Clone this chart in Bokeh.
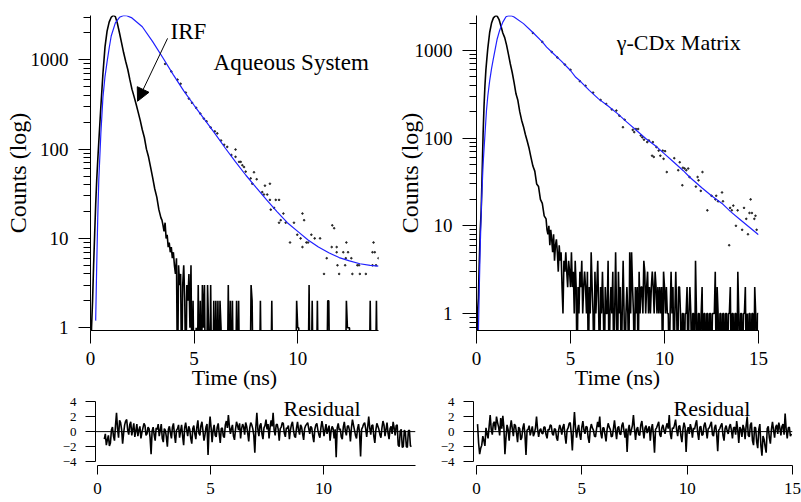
from bokeh.plotting import figure
from bokeh.layouts import column, row
from bokeh.models import (FixedTicker, NumeralTickFormatter, Label, Arrow,
                          NormalHead, Span, Range1d)
from bokeh.embed import file_html
from bokeh.resources import INLINE

NARROW = "Liberation Sans Narrow"
SERIF = "Liberation Serif"
FIT_BLUE = "#2020ff"
ZERO_FLOOR = 0.2   # display level for zero-count channels on the log axis

# ---------------- Aqueous system (left) ----------------
fit_l_t = [0.25, 0.30, 0.35, 0.40, 0.50, 0.60, 0.70, 0.80, 0.90, 1.00, 1.20, 1.40, 1.60, 1.75,
           2.00, 2.50, 3.00, 3.50, 4.00, 4.50, 5.00, 5.50, 6.00, 6.50, 7.00, 7.50, 8.00, 8.50,
           9.00, 9.50, 10.00, 10.50, 11.00, 11.50, 12.00, 12.50, 13.00, 13.50, 13.90]
fit_l_c = [1.2, 5, 17, 45, 150, 380, 650, 950, 1350, 1850, 2600, 3000, 3140, 3120,
           2950, 2350, 1600, 1050, 680, 450, 310, 215, 150, 103, 72, 51, 37, 27,
           20, 15, 12, 9.6, 8.0, 6.9, 6.1, 5.6, 5.2, 5.0, 4.9]

irf_l_head_t = [0.00, 0.05, 0.10, 0.15, 0.20, 0.25, 0.30, 0.35, 0.40, 0.45, 0.50, 0.60, 0.70,
                0.80, 0.90, 1.00, 1.10, 1.20, 1.30, 1.40, 1.50, 1.60, 1.70, 1.80, 1.90, 2.00,
                2.10, 2.20, 2.30, 2.40, 2.50, 2.60, 2.70, 2.80, 2.90, 3.00, 3.10, 3.20, 3.30,
                3.40, 3.45]
irf_l_head_c = [0, 1, 2, 5, 11, 24, 45, 75, 120, 190, 300, 700, 1400,
                2100, 2650, 3000, 3150, 3050, 2550, 2000, 1550, 1200, 960, 780, 600, 470,
                390, 320, 260, 210, 165, 135, 100, 82, 63, 48, 36, 29, 21,
                17, 16]
IRF_L_TAIL_START = 3.50
IRF_CHANNEL = 0.05
irf_l_tail_c = [14, 12, 15, 10, 11, 8, 9, 7, 8, 6, 7, 5, 4, 6, 0, 5, 3, 4, 0, 3,
                5, 2, 0, 3, 2, 4, 1, 5, 0, 2, 0, 0, 1, 0, 3, 0, 2, 0, 3, 1,
                3, 0, 0, 3, 1, 0, 3, 0, 0, 2, 0, 2, 0, 2, 0, 2, 1, 0, 0, 0,
                0, 0, 0, 3, 0, 2, 0, 2, 0, 0, 0, 2, 0, 2, 0, 0, 0, 0, 0, 0,
                0, 0, 0, 0, 0, 3, 2, 0, 0, 0, 0, 0, 0, 0, 2, 0, 0, 0, 0, 0,
                0, 0, 0, 0, 0, 2, 0, 0, 0, 0, 0, 0, 0, 0, 0, 0, 0, 0, 0, 0,
                0, 0, 0, 0, 0, 0, 0, 0, 0, 2, 1, 1, 0, 0, 0, 0, 0, 0, 0, 0,
                0, 3, 0, 0, 2, 0, 0, 0, 0, 2, 0, 0, 0, 0, 0, 0, 0, 0, 0, 2,
                2, 0, 0, 0, 0, 0, 0, 0, 0, 0, 0, 0, 0, 0, 0, 0, 0, 2, 1, 1,
                1, 0, 0, 0, 0, 0, 0, 0, 0, 0, 0, 0, 0, 0, 0, 0, 0, 0, 0, 0,
                2, 0, 0, 0, 0, 0, 2, 0, 0]

dots_l_t = [3.6, 3.9, 4.2, 4.35, 4.6, 4.75, 4.9, 5.1, 5.3, 5.47, 5.6, 5.8, 6.0, 6.12, 6.3, 6.45,
            6.6, 6.8, 7.0, 7.0, 7.17, 7.25, 7.33, 7.41, 7.49, 7.73, 7.81, 7.89, 8.02, 8.29, 8.37,
            8.42, 8.53, 8.66, 8.66, 8.7, 8.86, 8.94, 9.1, 9.1, 9.18, 9.31, 9.42, 9.63, 9.82, 9.98,
            10.14, 10.23, 10.23, 10.31, 10.42, 10.5, 10.66, 10.82, 11.08, 11.27, 11.4, 11.64,
            11.67, 11.76, 11.88, 11.88, 11.92, 12.0, 12.2, 12.29, 12.32, 12.35, 12.43, 12.59,
            12.64, 12.88, 12.96, 13.0, 13.29, 13.61, 13.61, 13.66, 13.72, 13.78, 13.9]
dots_l_c = [900, 740, 600, 540, 430, 368, 330, 290, 250, 220, 205, 175, 158, 150, 125, 112,
            106, 86, 99, 82, 72, 72, 66, 63, 56, 47, 41, 55, 46, 33, 31,
            39, 31, 41, 27, 21, 22, 27, 27, 15, 16, 19, 15, 9, 15, 11,
            10, 19, 8, 16, 9, 9, 11, 10, 10, 4, 6, 8,
            14, 13, 8, 7, 5, 4, 7, 5, 6, 9, 7, 6,
            4, 5, 5, 4, 4, 7, 5, 9, 7, 5, 6]

RES_L_START = 0.30
RES_L_STEP = 0.045
res_l = [-1.0, -0.3, -1.8, -1.1, -0.5, -1.9, -1.5, 0.2, 0.6, -0.6, -1.2, 0.8, 2.5, 0.4, -0.8, 1.5, 1.2, 0.3, -1.6, -0.2,
         0.9, 1.4, 1.6, 0.2, -0.4, 0.9, 1.3, -0.5, 0.3, 1.1, -0.7, 0.1, 1.0, -0.6, 0.2, 0.7, -0.9, -0.1, 0.5, 1.1,
         0.8, -0.5, -0.3, 0.6, 0.4, -0.8, -3.0, 0.1, 0.6, -0.4, -1.2, 0.5, 0.3, 1.0, -0.6, 0.2, 1.0, -0.9, -1.4, 0.4,
         0.2, -0.7, -2.0, 0.3, 0.7, -0.2, -0.9, 0.6, 1.1, -0.4, -1.5, 0.2, 0.4, 0.9, -0.8, 0.1, 0.9, -0.6, -1.8, 0.5,
         1.2, 0.2, -0.6, 0.7, 0.3, -0.9, -1.6, 0.4, 0.8, -0.3, -1.0, 0.6, 1.5, -0.2, -0.5, 0.8, 1.3, 0.1, -1.2, -0.4,
         0.6, 1.0, -3.1, 0.3, 2.0, 0.5, -1.4, 0.2, 0.9, -0.5, -0.7, 0.6, 1.1, -0.3, -1.5, 0.4, 0.5, -0.6, -0.8, 0.9,
         1.4, 0.5, 2.2, 0.7, -0.3, 0.4, 0.9, -0.6, -1.1, 0.3, 1.3, 0.8, 0.2, 1.1, -0.9, 0.4, 1.0, 0.6, -0.4, 1.2,
         0.7, -0.2, -1.3, 0.5, 1.2, 0.9, 0.4, -0.5, -2.8, 0.6, 2.5, 0.3, -0.6, 0.8, 1.1, -0.3, -1.0, 0.5, 0.8, 1.6,
         0.3, 1.0, -0.9, 0.6, 1.5, 0.7, 2.5, 0.2, -0.5, 0.9, 1.0, 0.3, -1.2, 0.4, 0.6, 1.2, 1.1, -0.2, -0.7, 0.5,
         0.4, 0.8, -1.0, 0.2, 0.9, 1.3, 0.2, -0.6, -0.8, 0.5, 1.3, 0.2, -0.4, 0.9, 0.6, -0.3, -1.1, 0.4, 0.8, 1.0,
         1.2, 0.4, -0.3, 0.7, 0.5, -0.6, -1.4, 0.3, 0.9, 1.1, 0.2, -0.4, -0.8, 0.5, 1.4, 0.6, -0.6, 0.2, 1.0, -0.3,
         0.3, 0.8, -1.2, 0.1, 0.7, 0.4, -0.9, 0.3, -3.4, 0.5, 1.1, 0.2, 0.4, -0.7, -1.0, 0.6, 1.3, 0.1, -0.5, 0.7,
         0.8, 0.2, -1.3, 0.5, 1.6, 0.9, 0.2, -0.5, -0.9, 0.4, 1.0, -0.2, -3.3, 0.3, 0.6, 1.0, 1.2, 0.4, -0.7, 0.6,
         2.0, 0.5, -0.4, 0.8, 0.9, -0.6, -1.5, 0.2, 1.1, 0.7, 0.3, -0.4, -0.8, 0.5, 1.4, 0.9, -0.6, 0.3, 1.2, -0.2,
         -1.0, 0.4, 0.7, -0.3, 1.3, 0.5, -0.5, 0.8, 0.9, -1.8, -2.0, 0.1, 0.3, -2.1, -2.0, 0.2, 0.0, -2.0, -2.1, 0.1,
         0.2, -1.9, -2.0]

# ---------------- gamma-CDx matrix (right) ----------------
fit_r_t = [0.10, 0.15, 0.20, 0.27, 0.35, 0.45, 0.53, 0.60, 0.70, 0.80, 0.88, 1.00, 1.10, 1.23,
           1.40, 1.57, 1.70, 1.85, 2.00, 2.50, 3.00, 3.50, 3.73, 4.00, 4.50, 5.00, 5.28, 5.50,
           6.00, 6.49, 7.00, 7.50, 8.00, 8.50, 9.00, 9.60, 10.00, 10.50, 11.00, 11.33, 12.00,
           12.50, 13.06, 13.50, 14.00, 14.50, 15.00]
fit_r_c = [0.6, 2, 6, 19, 50, 110, 205, 300, 450, 620, 770, 1050, 1350, 1690,
           2100, 2420, 2480, 2480, 2400, 2020, 1600, 1250, 1090, 960, 760, 590, 494, 450,
           350, 280, 232, 190, 152, 123, 99, 79, 66, 53, 42.5, 36, 27,
           22, 18, 14.6, 11.9, 9.7, 7.9]

irf_r_head_t = [0.00, 0.05, 0.10, 0.15, 0.20, 0.25, 0.30, 0.35, 0.40, 0.45, 0.50, 0.55, 0.60,
                0.70, 0.80, 0.90, 1.00, 1.05, 1.10, 1.20, 1.30, 1.40, 1.50, 1.60, 1.70, 1.80,
                1.90, 2.00, 2.10, 2.20, 2.30, 2.40, 2.50, 2.60, 2.70, 2.80, 2.90, 3.00, 3.10,
                3.20, 3.30, 3.40, 3.50, 3.60, 3.70, 3.75]
irf_r_head_c = [0, 1, 1.5, 4, 9, 15, 40, 110, 230, 400, 600, 800, 1050,
                1600, 2050, 2350, 2470, 2490, 2460, 2250, 1900, 1580, 1400, 1150, 900, 700,
                560, 430, 320, 270, 200, 160, 135, 110, 92, 76, 60, 48, 42,
                30, 28, 20, 18, 13, 12, 9]
IRF_R_TAIL_START = 3.80
irf_r_tail_c = [8, 10, 6, 9, 7, 5, 8, 4, 6, 7, 5, 3, 6, 4, 5, 2, 1, 4, 3, 5,
                3, 2, 4, 3, 2, 5, 2, 3, 1, 4, 2, 0, 2, 1, 3, 2, 4, 1, 2, 3,
                2, 1, 3, 0, 2, 1, 5, 2, 1, 0, 3, 1, 2, 4, 1, 0, 2, 1, 3, 1,
                0, 2, 1, 1, 4, 0, 1, 2, 1, 3, 0, 1, 5, 1, 0, 3, 1, 2, 0, 1,
                4, 1, 0, 1, 2, 1, 0, 5, 1, 5, 2, 1, 0, 2, 1, 2, 0, 3, 1, 2,
                2, 1, 4, 3, 1, 2, 3, 1, 2, 1, 2, 3, 2, 1, 3, 2, 1, 2, 1, 2,
                1, 2, 0, 3, 2, 1, 2, 1, 1, 0, 1, 3, 1, 2, 0, 1, 3, 1, 0, 2,
                2, 1, 0, 1, 1, 0, 1, 1, 2, 0, 1, 2, 1, 0, 1, 1, 0, 4, 1, 0,
                1, 1, 0, 1, 2, 0, 1, 1, 0, 1, 1, 0, 1, 1, 0, 1, 1, 1, 3, 0,
                2, 1, 0, 1, 1, 0, 1, 1, 0, 1, 1, 0, 1, 1, 2, 0, 1, 1, 0, 1,
                1, 0, 3, 1, 0, 1, 1, 0, 1, 1, 2, 0, 1, 0, 1, 1, 0, 1, 1, 0,
                2, 1, 0, 1, 1]

dots_r_t = [3.0, 3.5, 4.0, 4.3, 4.7, 5.0, 5.5, 5.8, 6.2, 6.6, 6.9, 7.2, 7.44, 7.6, 7.79, 7.88,
            8.31, 8.39, 8.48, 8.6, 8.74, 8.82, 8.91, 9.08, 9.17, 9.34, 9.38, 9.43, 9.57, 9.69,
            9.78, 9.91, 9.95, 10.03, 10.12, 10.52, 10.73, 10.81, 10.95, 10.98, 11.07, 11.16,
            11.26, 11.33, 11.67, 11.76, 11.81, 11.93, 12.02, 12.28, 12.5, 12.71, 12.75, 12.85,
            13.06, 13.11, 13.44, 13.49, 13.58, 13.66, 13.8, 13.89, 14.13, 14.23, 14.35, 14.44,
            14.52, 14.58, 14.65, 14.78, 14.84, 14.9]
dots_r_c = [1580, 1250, 960, 830, 690, 600, 445, 395, 330, 272, 245, 212, 206, 180, 133, 162,
            124, 117, 127, 127, 107, 102, 96, 90, 94, 63, 90, 61, 79, 72,
            63, 72, 58, 71, 41, 59, 43, 53, 29, 46, 45, 43,
            45, 36, 28, 36, 33, 25, 41, 15, 22, 20, 22, 19,
            24, 19, 6, 16, 15, 17, 10, 15, 9, 16, 12, 8,
            14, 20, 14, 12, 13, 9]

RES_R_START = 0.05
RES_R_STEP = 0.05
res_r = [1.0, -1.5, -3.0, -2.2, -1.8, -0.6, -1.2, -1.9, 0.5, -0.3, -0.9, 0.7, 2.2, 0.3, -0.4, 1.1, 1.3, 0.2, 2.0, 1.2,
         0.6, -0.5, 1.8, 0.4, 2.1, 0.6, -3.0, -0.8, 0.9, 0.3, -1.2, 0.5, 1.5, 0.4, -0.6, 1.0, 0.8, -0.2, -1.4, 0.6,
         0.4, -1.1, -0.8, 0.5, 1.1, -0.4, -3.1, 0.2, 0.3, 0.8, -0.5, 0.1, 0.7, -0.6, -0.2, 0.5, 2.0, 0.3, -0.7, 0.2,
         0.4, -0.2, -0.3, 0.6, 0.6, -0.4, -0.9, 0.3, 0.2, 0.9, 0.8, -0.3, -0.5, 0.4, 0.3, -0.8, -1.2, 0.2, 0.9, 0.4,
         -0.4, 0.6, 1.0, -0.5, -1.6, 0.2, 0.5, 1.1, 1.2, -0.3, -2.5, 0.4, 2.6, 0.5, -0.8, 0.3, 0.9, -0.4, -1.1, 0.6,
         1.4, 0.2, -0.3, 0.7, 0.6, -0.8, -1.5, 0.3, 1.0, 0.5, 0.2, -0.6, -0.7, 0.4, 1.3, 0.6, 2.0, -0.2, -0.9, 0.5,
         0.5, -0.4, -1.3, 0.3, 1.1, 0.6, 0.3, -0.7, -0.6, 0.4, 1.5, 0.2, -1.0, 0.5, 0.7, -0.3, -0.4, 0.8, 1.2, 0.1,
         -0.8, 0.4, -2.7, 0.2, 0.9, -0.5, 0.2, 0.8, 2.2, 0.4, -1.1, 0.3, 0.6, -0.4, -0.5, 0.9, 1.4, 0.2, -0.9, 0.5,
         0.8, -0.2, 0.3, 0.7, -1.2, 0.4, 1.0, -0.5, -2.8, 0.3, 0.5, 0.9, 1.3, -0.4, -0.7, 0.5, 0.9, 0.2, -0.3, 0.6,
         1.1, 0.4, 2.2, -0.3, -1.0, 0.5, 0.4, 0.9, 1.6, 0.2, -0.6, 0.7, 0.8, -0.5, -1.4, 0.3, 1.2, 0.6, -2.7, 0.1,
         0.6, -0.3, 1.0, 0.4, -0.8, 0.5, 0.3, 1.0, 1.5, -0.2, -1.1, 0.6, 0.7, -0.5, -0.4, 0.8, 1.2, 0.3, -0.9, 0.4,
         0.5, 0.9, 1.3, -0.4, -0.6, 0.5, 0.9, -0.3, -2.6, 0.2, 0.4, 0.8, 1.1, -0.5, -1.2, 0.4, 0.8, 0.1, -0.3, 0.6,
         1.0, 0.2, -0.9, 0.5, 0.6, -0.4, 1.4, 0.3, -1.5, 0.6, 0.3, -0.7, 0.9, 0.4, -1.0, 0.8, 2.0, -0.5, -0.7, 0.9,
         1.2, -1.2, -1.8, 0.6, 0.5, -1.4, -2.2, 0.3, 1.0, -1.9, -3.2, -0.6, -1.0, -2.0, -2.8, 0.4, 0.7, -0.8, -1.6, 0.3,
         1.3, 0.2, -0.8, 0.6, 0.9, -0.3, 1.2, 0.5, -0.5, 0.7, 1.0, -0.4, 2.4, 0.3, -0.9, 0.5, 0.6, -0.6, -0.3]

MAIN_Y_TICKS = [1, 10, 100, 1000]
MAIN_Y_MINOR = [0.7, 0.8, 0.9, 2, 3, 4, 5, 6, 7, 8, 9, 20, 30, 40, 50, 60, 70, 80, 90,
                200, 300, 400, 500, 600, 700, 800, 900, 2000, 3000]
RES_Y_TICKS = [-4, -2, 0, 2, 4]


def grid_times(start, step, vals):
    return [round(start + step * i, 4) for i in range(len(vals))]


def floored(vals):
    return [v if v > 0 else ZERO_FLOOR for v in vals]


def clean(p):
    p.outline_line_color = None
    p.grid.visible = False
    p.background_fill_color = "white"
    p.border_fill_color = "white"


def main_panel(width, bl, br, x_end, y_lo, y_hi, x_ticks, y_tick_out, y_label_standoff):
    p = figure(width=width, height=395, x_range=Range1d(0, x_end),
               y_range=Range1d(y_lo, y_hi), y_axis_type="log",
               output_backend="svg", toolbar_location=None,
               min_border_left=bl, min_border_right=br,
               min_border_top=15, min_border_bottom=65)
    clean(p)
    xa = p.xaxis[0]
    xa.ticker = FixedTicker(ticks=x_ticks)
    xa.major_tick_out = 13
    xa.major_tick_in = 0
    xa.major_label_standoff = 8
    xa.major_label_text_font = NARROW
    xa.major_label_text_font_size = "19px"
    xa.major_label_text_color = "black"
    xa.axis_label = "Time (ns)"
    xa.axis_label_text_font = SERIF
    xa.axis_label_text_font_size = "22px"
    xa.axis_label_text_font_style = "normal"
    xa.axis_label_text_color = "black"
    xa.axis_label_standoff = -3
    ya = p.yaxis[0]
    ya.ticker = FixedTicker(ticks=MAIN_Y_TICKS, minor_ticks=MAIN_Y_MINOR)
    ya.formatter = NumeralTickFormatter(format="0")
    ya.major_tick_out = y_tick_out
    ya.major_tick_in = 0
    ya.minor_tick_out = 7
    ya.minor_tick_in = 0
    ya.major_label_standoff = 10
    ya.major_label_text_font = NARROW
    ya.major_label_text_font_size = "19px"
    ya.major_label_text_color = "black"
    ya.axis_label = "Counts (log)"
    ya.axis_label_text_font = SERIF
    ya.axis_label_text_font_size = "24px"
    ya.axis_label_text_font_style = "normal"
    ya.axis_label_text_color = "black"
    ya.axis_label_standoff = y_label_standoff
    for ax in (xa, ya):
        ax.axis_line_color = "black"
        ax.major_tick_line_color = "black"
    xa.minor_tick_line_color = None
    ya.minor_tick_line_color = "black"
    return p


def residual_panel(width, bl, br, x_start, x_end, x_ticks):
    p = figure(width=width, height=107, x_range=Range1d(x_start, x_end),
               y_range=Range1d(-4.5, 4.0), output_backend="svg", toolbar_location=None,
               min_border_left=bl, min_border_right=br, min_border_top=6, min_border_bottom=37)
    clean(p)
    xa = p.xaxis[0]
    xa.ticker = FixedTicker(ticks=x_ticks)
    xa.bounds = (0, x_end)
    xa.minor_tick_line_color = None
    xa.major_tick_out = 9
    xa.major_tick_in = 0
    xa.major_label_standoff = 8
    xa.major_label_text_font = NARROW
    xa.major_label_text_font_size = "17px"
    xa.major_label_text_color = "black"
    ya = p.yaxis[0]
    ya.ticker = FixedTicker(ticks=RES_Y_TICKS)
    ya.bounds = (-4, 4)
    ya.minor_tick_line_color = None
    ya.major_tick_out = 10
    ya.major_tick_in = 0
    ya.major_label_standoff = 9
    ya.major_label_text_font = NARROW
    ya.major_label_text_font_size = "13px"
    ya.major_label_text_color = "black"
    for ax in (xa, ya):
        ax.axis_line_color = "black"
        ax.major_tick_line_color = "black"
    p.add_layout(Span(location=0, dimension="width", line_color="black", line_width=1))
    return p


def text(p, x, y, s, size):
    p.add_layout(Label(x=x, y=y, text=s, text_font=SERIF, text_font_size=size,
                       text_baseline="middle", text_align="left", text_color="black"))


# ---- left main ----
pl = main_panel(393, 90, 15, 13.9, 0.93, 3140, [0, 5, 10], 12, -3)
irf_l_t = irf_l_head_t + grid_times(IRF_L_TAIL_START, IRF_CHANNEL, irf_l_tail_c)
irf_l_c = floored(irf_l_head_c + irf_l_tail_c)
pl.line(irf_l_t, irf_l_c, line_color="black", line_width=1.6)
pl.scatter(dots_l_t, dots_l_c, size=1.6, color="#222222")
pl.line(fit_l_t, fit_l_c, line_color=FIT_BLUE, line_width=1.2)
text(pl, 3.86, 2080, "IRF", "23px")
text(pl, 5.94, 938, "Aqueous System", "23px")
pl.add_layout(Arrow(end=NormalHead(size=13, fill_color="black", line_color="black"),
                    x_start=3.72, y_start=1740, x_end=2.27, y_end=344,
                    line_color="black", line_width=1))

# ---- right main ----
pr = main_panel(400, 75, 35, 15.0, 0.64, 2500, [0, 5, 10, 15], 14, -11)
irf_r_t = irf_r_head_t + grid_times(IRF_R_TAIL_START, IRF_CHANNEL, irf_r_tail_c)
irf_r_c = floored(irf_r_head_c + irf_r_tail_c)
pr.line(irf_r_t, irf_r_c, line_color="black", line_width=1.6)
pr.scatter(dots_r_t, dots_r_c, size=1.6, color="#222222")
pr.line(fit_r_t, fit_r_c, line_color=FIT_BLUE, line_width=1.2)
text(pr, 7.46, 1230, "\u03b3-CDx Matrix", "22px")

# ---- residuals ----
rl = residual_panel(435, 95, 20, -0.09, 14.07, [0, 5, 10])
rl.line(grid_times(RES_L_START, RES_L_STEP, res_l), res_l, line_color="black", line_width=1.6)
text(rl, 8.23, 3.05, "Residual", "22px")

rr = residual_panel(366, 38, 9, -0.142, 15.0, [0, 5, 10, 15])
rr.line(grid_times(RES_R_START, RES_R_STEP, res_r), res_r, line_color="black", line_width=1.6)
text(rr, 9.35, 3.05, "Residual", "22px")

layout = column(row(pl, pr), row(rl, rr))
open("out.html", "w").write(file_html(layout, INLINE))
